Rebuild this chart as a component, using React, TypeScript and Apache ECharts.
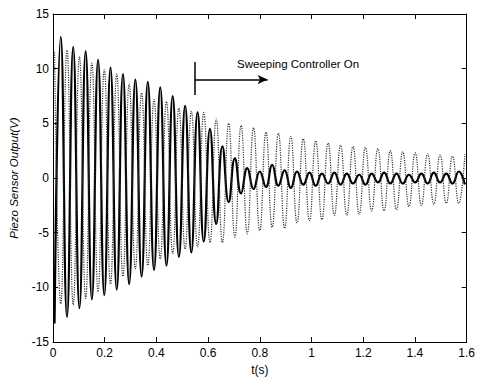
import React, { useEffect, useRef } from "react";
import * as echarts from "echarts";

const T0 = 0.006; // time of first extremum (s)
const HALF_PERIOD = 0.02405; // half oscillation period (s), ~20.8 Hz

// Black (controlled) signal: troughs at even extrema, peaks at odd extrema
const blackTroughs = [
  -13.3, -12.7, -11.9, -11.1, -10.7, -10.2, -9.7, -9.0, -8.4, -8.0, -7.2, -6.8,
  -5.8, -4.2, -2.2, -1.4, -1.0, -0.8, -0.7, -0.9, -0.6, -0.7, -0.5, -0.6, -0.5,
  -0.6, -0.4, -0.5, -0.5, -0.4, -0.5, -0.4, -0.5, -0.6,
];
const blackPeaks = [
  12.9, 12.0, 11.6, 10.8, 10.1, 9.5, 9.0, 8.8, 8.3, 7.5, 6.6, 6.0, 4.5, 2.9, 1.8,
  0.9, 0.6, 1.2, 0.7, 0.6, 0.5, 0.4, 0.5, 0.4, 0.3, 0.4, 0.5, 0.4, 0.3, 0.4, 0.5,
  0.4, 0.6,
];

// Gray dotted (uncontrolled) signal: peaks at even extrema, troughs at odd extrema
const grayPeaks = [
  11.5, 11.7, 11.1, 10.5, 9.9, 9.5, 8.6, 7.8, 7.2, 7.0, 6.4, 6.1, 6.0, 5.4, 5.0,
  4.8, 4.6, 4.2, 4.1, 3.8, 3.6, 3.4, 3.2, 3.0, 2.9, 2.8, 2.7, 2.5, 2.4, 2.3, 2.2,
  2.1, 2.0, 2.2,
];
const grayTroughs = [
  -11.5, -11.6, -11.0, -10.4, -9.7, -9.0, -8.3, -8.0, -7.4, -6.9, -6.5, -6.3,
  -5.9, -5.9, -5.4, -5.1, -4.8, -4.5, -4.6, -4.1, -3.9, -3.8, -3.4, -3.4, -3.3,
  -3.0, -3.0, -2.9, -2.6, -2.5, -2.4, -2.3, -2.3,
];

const xTicks = { min: 0, max: 1.6, interval: 0.2 };
const yTicks = { min: -15, max: 15, interval: 5 };

const annotation = {
  text: "Sweeping Controller On",
  barT: 0.55,
  barTop: 10.6,
  barBottom: 7.6,
  arrowY: 9.0,
  arrowEnd: 0.83,
  textT: 0.712,
  textY: 10.4,
};

function buildSeries(evenVals: number[], oddVals: number[]) {
  const out: [number, number][] = [];
  const n = evenVals.length + oddVals.length;
  for (let j = 0; j < n; j++) {
    const t = T0 + j * HALF_PERIOD;
    const v = j % 2 === 0 ? evenVals[j / 2] : oddVals[(j - 1) / 2];
    out.push([t, v]);
  }
  return out;
}

const FONT = "'Liberation Sans', Arial, Helvetica, sans-serif";

export default function App() {
  const ref = useRef<HTMLDivElement>(null);
  useEffect(() => {
    if (!ref.current) return;
    const chart = echarts.init(ref.current, undefined, { renderer: "svg" });
    const black = buildSeries(blackTroughs, blackPeaks);
    const gray = buildSeries(grayPeaks, grayTroughs);
    const axisCommon = {
      axisLine: { show: true, onZero: false, lineStyle: { color: "#000", width: 1 } },
      axisTick: { show: true, inside: true, length: 5, lineStyle: { color: "#000" } },
      splitLine: { show: false },
    };
    chart.setOption({
      animation: false,
      backgroundColor: "#fff",
      textStyle: { fontFamily: FONT },
      grid: { left: 46, right: 9, top: 14, bottom: 35, containLabel: false },
      xAxis: [
        {
          type: "value",
          ...xTicks,
          position: "bottom",
          ...axisCommon,
          axisLabel: { color: "#000", fontSize: 12, margin: 5, fontFamily: FONT },
          name: "t(s)",
          nameLocation: "middle",
          nameGap: 19,
          nameTextStyle: { color: "#000", fontSize: 12, fontFamily: FONT },
        },
        {
          type: "value",
          ...xTicks,
          position: "top",
          ...axisCommon,
          axisLabel: { show: false },
        },
      ],
      yAxis: [
        {
          type: "value",
          ...yTicks,
          position: "left",
          ...axisCommon,
          axisLabel: { color: "#000", fontSize: 12, margin: 4, fontFamily: FONT },
          name: "Piezo Sensor Output(V)",
          nameLocation: "middle",
          nameGap: 33,
          nameTextStyle: { color: "#000", fontSize: 11.5, fontStyle: "italic", fontFamily: FONT },
        },
        {
          type: "value",
          ...yTicks,
          position: "right",
          ...axisCommon,
          axisLabel: { show: false },
        },
      ],
      series: [
        {
          type: "line",
          name: "controlled",
          data: black,
          smooth: 0.5,
          showSymbol: false,
          symbol: "none",
          lineStyle: { color: "#000", width: 2.2 },
          z: 2,
          markLine: {
            silent: true,
            symbol: ["none", "none"],
            symbolSize: [7, 10],
            label: { show: false },
            lineStyle: { color: "#000", width: 1.5, type: "solid" },
            data: [
              [
                { coord: [annotation.barT, annotation.barTop] },
                { coord: [annotation.barT, annotation.barBottom] },
              ],
              [
                { coord: [annotation.barT, annotation.arrowY], symbol: "none" },
                { coord: [annotation.arrowEnd, annotation.arrowY], symbol: "arrow" },
              ],
            ],
          },
          markPoint: {
            silent: true,
            data: [
              {
                coord: [annotation.textT, annotation.textY],
                symbol: "circle",
                symbolSize: 0,
                label: {
                  show: true,
                  position: "right",
                  distance: 0,
                  formatter: annotation.text,
                  color: "#000",
                  fontSize: 11.5,
                  fontFamily: FONT,
                },
              },
            ],
          },
        },
        {
          type: "line",
          name: "uncontrolled",
          data: gray,
          smooth: 0.5,
          showSymbol: false,
          symbol: "none",
          lineStyle: { color: "#333", width: 1.2, type: "dotted" },
          z: 3,
        },
      ],
    });
    return () => chart.dispose();
  }, []);
  return (
    <div
      ref={ref}
      style={{ position: "fixed", left: 0, top: 0, width: 478, height: 381, background: "#fff" }}
    />
  );
}
